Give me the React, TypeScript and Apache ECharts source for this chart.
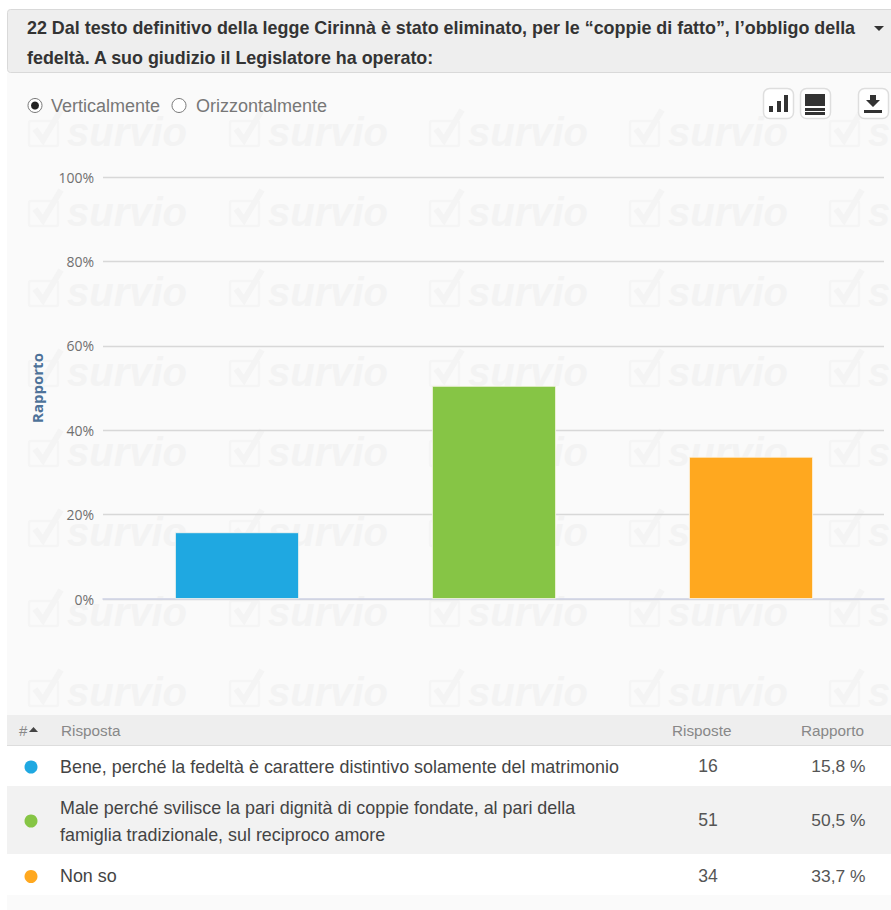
import React, { useEffect, useRef } from "react";
import * as echarts from "echarts";

const titleLines = [
  "22 Dal testo definitivo della legge Cirinnà è stato eliminato, per le “coppie di fatto”, l’obbligo della",
  "fedeltà. A suo giudizio il Legislatore ha operato:",
];
const answers = [
  "Bene, perché la fedeltà è carattere distintivo solamente del matrimonio",
  "Male perché svilisce la pari dignità di coppie fondate, al pari della famiglia tradizionale, sul reciproco amore",
  "Non so",
];
const answerLines = [
  ["Bene, perché la fedeltà è carattere distintivo solamente del matrimonio"],
  ["Male perché svilisce la pari dignità di coppie fondate, al pari della", "famiglia tradizionale, sul reciproco amore"],
  ["Non so"],
];
const counts = [16, 51, 34];
const shares = [15.8, 50.5, 33.7];
const shareLabels = ["15,8 %", "50,5 %", "33,7 %"];
const colors = ["#1fa8e1", "#86c545", "#ffa81f"];
const tickStep = 20;
const rowBands = [
  [746, 40, "#ffffff"],
  [786, 68, "#f2f2f2"],
  [854, 41, "#ffffff"],
] as const;
const rowCenters = [766, 820, 875.5];
const wmRows = [130, 210, 290, 370, 450, 530, 610, 690];
const wmCols = [27, 228, 428, 628, 828];

const SANS = '"Liberation Sans", Arial, sans-serif';

function txt(text: string, x: number, y: number, fontSize: number, fill: string, extra: any = {}) {
  return {
    type: "text",
    x,
    y,
    z: 5,
    silent: true,
    style: { text, fontSize, fill, fontFamily: SANS, verticalAlign: "middle", align: "left", ...extra },
  };
}

function buildGraphics() {
  const g: any[] = [];
  const rect = (x: number, y: number, width: number, height: number, fill: string, z = -10, extra: any = {}) => ({
    type: "rect",
    z,
    silent: true,
    shape: { x, y, width, height, r: extra.r || 0 },
    style: { fill, stroke: extra.stroke, lineWidth: extra.lineWidth },
  });
  g.push(rect(7, 73, 884, 642, "#fafafa", -10));
  g.push(rect(7.5, 9.5, 890, 63, "#eeeeee", -9, { r: 3, stroke: "#d9d9d9", lineWidth: 1 }));
  g.push(rect(7, 715, 884, 31, "#eeeeee", -4));
  g.push(rect(7, 745, 884, 1, "#dddddd", -3));
  g.push(rect(7, 895, 884, 15, "#fafafa", -4));
  rowBands.forEach(([y, h, fill]) => g.push(rect(7, y, 884, h, fill, -4)));

  // watermark
  wmRows.forEach((ry) => {
    wmCols.forEach((cx) => {
      g.push({
        type: "rect",
        z: -5,
        silent: true,
        shape: { x: cx + 2, y: ry - 9, width: 29, height: 25, r: 2 },
        style: { fill: "none", stroke: "#f5f5f5", lineWidth: 2.5 },
      });
      g.push({
        type: "polyline",
        z: -5,
        silent: true,
        shape: { points: [[cx + 8, ry - 1], [cx + 16, ry + 10], [cx + 34, ry - 20]] },
        style: { fill: "none", stroke: "#f4f4f4", lineWidth: 6 },
      });
      g.push({
        type: "text",
        z: -5,
        silent: true,
        x: cx + 40,
        y: ry + 2,
        style: {
          text: "survio",
          fontSize: 40,
          fontWeight: "bold",
          fontStyle: "italic",
          fontFamily: SANS,
          fill: "#f3f3f3",
          verticalAlign: "middle",
        },
      });
    });
  });

  // title
  g.push(txt(titleLines[0], 27, 28, 17.9, "#333333", { fontWeight: "bold" }));
  g.push(txt(titleLines[1], 27, 58, 17.9, "#333333", { fontWeight: "bold" }));
  g.push({ type: "polygon", z: 5, silent: true, shape: { points: [[874, 26], [884, 26], [879, 31]] }, style: { fill: "#333" } });

  // radios
  g.push({ type: "circle", z: 5, silent: true, shape: { cx: 35, cy: 105.5, r: 7 }, style: { fill: "#fff", stroke: "#777", lineWidth: 1 } });
  g.push({ type: "circle", z: 6, silent: true, shape: { cx: 35, cy: 105.5, r: 4 }, style: { fill: "#222" } });
  g.push({ type: "circle", z: 5, silent: true, shape: { cx: 179, cy: 105.5, r: 7 }, style: { fill: "#fff", stroke: "#777", lineWidth: 1 } });
  g.push(txt("Verticalmente", 51, 105.5, 18, "#777777"));
  g.push(txt("Orizzontalmente", 196, 105.5, 18, "#777777"));

  // buttons
  [763, 800, 858].forEach((x) => g.push(rect(x + 0.5, 88.5, 30, 30, "#ffffff", 4, { r: 6, stroke: "#dedede", lineWidth: 1.5 })));
  g.push(rect(769, 106, 4, 6, "#333", 5));
  g.push(rect(777, 101, 4, 11, "#333", 5));
  g.push(rect(784, 95, 4, 17, "#333", 5));
  g.push(rect(805, 94, 20, 12, "#333", 5));
  g.push(rect(805, 108, 20, 3, "#333", 5));
  g.push(rect(805, 112, 20, 3, "#333", 5));
  g.push({
    type: "polygon",
    z: 5,
    silent: true,
    shape: { points: [[870, 95], [876, 95], [876, 100], [880, 100], [873, 107], [866, 100], [870, 100]] },
    style: { fill: "#333" },
  });
  g.push(rect(864, 110, 18, 3, "#333", 5));

  // table
  g.push(txt("#", 19, 730, 15, "#888888"));
  g.push({ type: "polygon", z: 5, silent: true, shape: { points: [[29, 732], [38, 732], [33.5, 727]] }, style: { fill: "#444" } });
  g.push(txt("Risposta", 61, 730, 15.3, "#888888"));
  g.push(txt("Risposte", 672, 730, 15.3, "#888888"));
  g.push(txt("Rapporto", 801, 730, 15.3, "#888888"));

  answers.forEach((_, i) => {
    const cy = rowCenters[i];
    g.push({ type: "circle", z: 5, silent: true, shape: { cx: 31, cy: cy + 1, r: 6.5 }, style: { fill: colors[i] } });
    const lines = answerLines[i];
    lines.forEach((line, j) => {
      const y = lines.length === 1 ? cy + 0.5 : cy - 12.5 + j * 27;
      g.push(txt(line, 60, y, 17.9, "#444444"));
    });
    g.push(txt(String(counts[i]), 708, cy, 17.6, "#555555", { align: "center" }));
    g.push(txt(shareLabels[i], 865.5, cy, 17.4, "#555555", { align: "right" }));
  });
  return g;
}

export default function App() {
  const ref = useRef<HTMLDivElement>(null);
  useEffect(() => {
    document.body.style.margin = "0";
    document.body.style.background = "#ffffff";
    const chart = echarts.init(ref.current!, undefined, { renderer: "svg" });
    chart.setOption({
      animation: false,
      backgroundColor: "transparent",
      graphic: { elements: buildGraphics() },
      grid: [
        { left: 103, width: 781, top: 177, height: 422 },
        { left: 108.5, width: 771, top: 177, height: 422 },
      ],
      xAxis: [
        {
          gridIndex: 0,
          type: "value",
          min: 0,
          max: 1,
          axisLabel: { show: false },
          axisTick: { show: false },
          splitLine: { show: false },
          axisLine: { show: true, lineStyle: { color: "#cfd3e6", width: 1.5 }, onZero: false },
        },
        {
          gridIndex: 1,
          type: "category",
          data: answers,
          axisLabel: { show: false },
          axisTick: { show: false },
          axisLine: { show: false },
        },
      ],
      yAxis: [
        {
          gridIndex: 0,
          type: "value",
          min: 0,
          max: 100,
          interval: tickStep,
          name: "Rapporto",
          nameLocation: "middle",
          nameGap: 59,
          nameRotate: 90,
          nameTextStyle: { color: "#4d7299", fontSize: 15, fontWeight: "bold", fontFamily: '"Open Sans", sans-serif' },
          axisLine: { show: false },
          axisTick: { show: false },
          axisLabel: {
            formatter: "{value}%",
            color: "#707070",
            fontSize: 14,
            margin: 9,
            fontFamily: '"Open Sans", sans-serif',
          },
          splitLine: { show: true, lineStyle: { color: "#d8d8d8", width: 1.3 } },
        },
        {
          gridIndex: 1,
          type: "value",
          min: 0,
          max: 100,
          interval: tickStep,
          axisLabel: { show: false },
          axisLine: { show: false },
          axisTick: { show: false },
          splitLine: { show: false },
        },
      ],
      series: [
        {
          type: "bar",
          xAxisIndex: 1,
          yAxisIndex: 1,
          barWidth: 124,
          silent: true,
          data: shares.map((v, i) => ({
            value: v,
            itemStyle: { color: colors[i], borderColor: "#fdf8ee", borderWidth: 0.8 },
          })),
        },
      ],
    });
    return () => chart.dispose();
  }, []);
  return <div ref={ref} style={{ position: "absolute", left: 0, top: 0, width: 891, height: 910 }} />;
}
